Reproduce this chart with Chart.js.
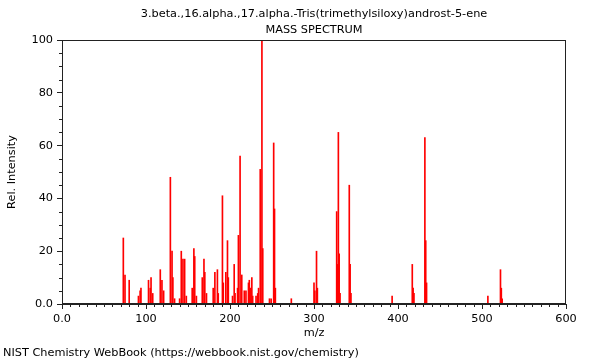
<!DOCTYPE html>
<html>
<head>
<meta charset="utf-8">
<script src="https://cdn.jsdelivr.net/npm/chart.js"></script>
<style>
  html, body { margin: 0; padding: 0; background: #fff; }
  canvas { display: block; }
</style>
</head>
<body>
<canvas id="c" width="600" height="360"></canvas>
<script>
// ---- data ----
const chartTitle = "3.beta.,16.alpha.,17.alpha.-Tris(trimethylsiloxy)androst-5-ene";
const chartSubtitle = "MASS SPECTRUM";
const footerText = "NIST Chemistry WebBook (https://webbook.nist.gov/chemistry)";
const xAxisTitle = "m/z";
const yAxisTitle = "Rel. Intensity";

const mzValues = [
  73, 75, 80, 91, 93, 94, 103, 105, 106, 108,
  117, 119, 121, 129, 131, 132, 134, 140, 142, 144,
  146, 148, 155, 157, 158, 160, 167, 169, 170, 172,
  180, 182, 185, 186, 191, 192, 195, 197, 198, 203,
  205, 206, 209, 210, 212, 214, 217, 219, 222, 223,
  224, 226, 227, 231, 233, 234, 236, 238, 239, 247,
  249, 252, 253, 254, 273, 300, 301, 303, 304, 327,
  328, 329, 330, 331, 342, 343, 344, 393, 417, 418,
  419, 432, 433, 434, 507, 522, 523, 524
];
const intensities = [
  25, 11, 9, 3, 5, 6, 9, 6, 10, 4,
  13, 9, 5, 48, 20, 10, 2, 2, 20, 17,
  17, 3, 6, 21, 18, 3, 10, 17, 12, 4,
  6, 12, 13, 4, 41, 8, 12, 24, 10, 3,
  15, 4, 6, 26, 56, 11, 5, 5, 8, 9,
  6, 10, 3, 3, 4, 6, 51, 100, 21, 2,
  2, 61, 36, 6, 2, 8, 5, 20, 6, 35,
  15, 65, 19, 4, 45, 15, 4, 3, 15, 6,
  4, 63, 24, 8, 3, 13, 6, 2
];
const xTickValues = [0, 100, 200, 300, 400, 500, 600];
const yTickValues = [0, 20, 40, 60, 80, 100];

// ---- chart ----
const FONT = '"DejaVu Sans", "Liberation Sans", sans-serif';
const AXIS_COLOR = '#222';

const decorPlugin = {
  id: 'decor',
  afterDraw(chart) {
    const ctx = chart.ctx;
    const area = chart.chartArea;
    const xs = chart.scales.x, ys = chart.scales.y;
    ctx.save();
    // frame
    ctx.strokeStyle = AXIS_COLOR;
    ctx.lineWidth = 1;
    ctx.strokeRect(Math.round(area.left) + 0.5, Math.round(area.top) + 0.5,
                   Math.round(area.right - area.left) - 1, Math.round(area.bottom - area.top) - 1);
    // minor ticks
    ctx.beginPath();
    for (let v = 0; v <= 600; v += 10) {
      if (v % 100 === 0) continue;
      const px = Math.round(xs.getPixelForValue(v)) + 0.5;
      ctx.moveTo(px, Math.round(area.bottom));
      ctx.lineTo(px, Math.round(area.bottom) + 3);
    }
    for (let v = 0; v <= 100; v += 5) {
      if (v % 20 === 0) continue;
      const py = Math.round(ys.getPixelForValue(v)) + 0.5;
      ctx.moveTo(Math.round(area.left), py);
      ctx.lineTo(Math.round(area.left) - 3, py);
    }
    ctx.stroke();
    // titles & footer
    ctx.fillStyle = '#000';
    ctx.font = '11.3px ' + FONT;
    ctx.textAlign = 'center';
    ctx.textBaseline = 'middle';
    const cx = (area.left + area.right) / 2;
    ctx.fillText(chartTitle, cx, 14);
    ctx.fillText(chartSubtitle, cx, 30);
    ctx.textAlign = 'left';
    ctx.fillText(footerText, 3, 353);
    ctx.restore();
  }
};

const points = mzValues.map((m, i) => ({ x: m, y: intensities[i] }));

new Chart(document.getElementById('c'), {
  type: 'bar',
  data: {
    datasets: [{
      data: points,
      backgroundColor: '#ff0000',
      borderWidth: 0,
      barThickness: 1,
      grouped: false
    }]
  },
  options: {
    responsive: false,
    devicePixelRatio: 1,
    animation: false,
    layout: { padding: { left: 0, right: 34, top: 40, bottom: 0 } },
    plugins: {
      legend: { display: false },
      tooltip: { enabled: false },
      title: { display: false }
    },
    scales: {
      x: {
        type: 'linear',
        min: 0, max: 600,
        offset: false,
        afterFit(scale) { scale.height = 56; },
        afterBuildTicks(scale) { scale.ticks = xTickValues.map(v => ({ value: v })); },
        ticks: {
          color: '#000',
          font: { family: FONT, size: 11.3 },
          padding: 3,
          maxRotation: 0,
          callback: v => (v === 0 ? '0.0' : String(v))
        },
        grid: { display: true, offset: false, drawOnChartArea: false, drawTicks: true, tickLength: 5, color: AXIS_COLOR },
        border: { display: true, color: AXIS_COLOR },
        title: {
          display: true, text: xAxisTitle, color: '#000',
          font: { family: FONT, size: 11.3 },
          padding: { top: 0, bottom: 20 }
        }
      },
      y: {
        type: 'linear',
        min: 0, max: 100,
        afterFit(scale) { scale.width = 62; },
        afterBuildTicks(scale) { scale.ticks = yTickValues.map(v => ({ value: v })); },
        ticks: {
          color: '#000',
          font: { family: FONT, size: 11.3 },
          padding: 4,
          callback: v => (v === 0 ? '0.0' : String(v))
        },
        grid: { display: true, drawOnChartArea: false, drawTicks: true, tickLength: 5, color: AXIS_COLOR },
        border: { display: true, color: AXIS_COLOR },
        title: {
          display: true, text: yAxisTitle, color: '#000',
          font: { family: FONT, size: 11.3 },
          padding: { top: 5, bottom: 0 }
        }
      }
    }
  },
  plugins: [decorPlugin]
});
</script>
</body>
</html>
